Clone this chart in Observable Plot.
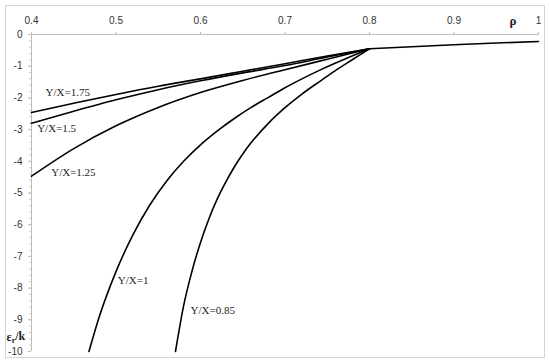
<!DOCTYPE html>
<html>
<head>
<meta charset="utf-8">
<script src="https://cdn.jsdelivr.net/npm/d3@7"></script>
<script src="https://cdn.jsdelivr.net/npm/@observablehq/plot@0.6"></script>
<style>
  html, body { margin: 0; padding: 0; background: #fff; }
  #wrap { position: relative; width: 550px; height: 363px; }
  #frame { position: absolute; left: 5px; top: 5px; width: 538px; height: 351px; border: 1px solid #d4d4d4; pointer-events: none; }
</style>
</head>
<body>
<div id="wrap"><div id="frame"></div></div>
<script>
// ---- data ----
const xTicks = [0.4, 0.5, 0.6, 0.7, 0.8, 0.9, 1];
const yTicks = [0, -1, -2, -3, -4, -5, -6, -7, -8, -9, -10];

const rhoA   = [0.4, 0.45, 0.5, 0.55, 0.6, 0.65, 0.7, 0.75, 0.8];
const yx175  = [-2.46, -2.17, -1.89, -1.63, -1.40, -1.16, -0.92, -0.68, -0.45];
const yx150  = [-2.80, -2.42, -2.06, -1.74, -1.46, -1.21, -0.98, -0.71, -0.45];
const yx125  = [-4.47, -3.60, -2.88, -2.30, -1.83, -1.45, -1.11, -0.78, -0.45];

const rho100 = [0.468, 0.48, 0.50, 0.52, 0.54, 0.56, 0.58, 0.60, 0.62, 0.64, 0.66, 0.68, 0.70, 0.72, 0.74, 0.76, 0.78, 0.80];
const yx100  = [-10, -8.92, -7.48, -6.32, -5.38, -4.62, -4.0, -3.48, -3.04, -2.65, -2.30, -1.99, -1.68, -1.40, -1.14, -0.90, -0.67, -0.45];

const rho085 = [0.5704, 0.58, 0.59, 0.60, 0.61, 0.62, 0.63, 0.64, 0.65, 0.66, 0.68, 0.70, 0.72, 0.74, 0.76, 0.78, 0.80];
const yx085  = [-10, -8.56, -7.46, -6.56, -5.81, -5.18, -4.65, -4.18, -3.77, -3.41, -2.81, -2.31, -1.88, -1.50, -1.13, -0.79, -0.45];

const rhoR   = [0.8, 0.85, 0.9, 0.95, 1];
const valR   = [-0.45, -0.385, -0.325, -0.27, -0.22];

const labelText = ["Y/X=1.75", "Y/X=1.5", "Y/X=1.25", "Y/X=1", "Y/X=0.85"];
const labelRho  = [0.4166, 0.4067, 0.4233, 0.5021, 0.5882];
const labelVal  = [-1.83, -2.98, -4.35, -7.77, -8.72];

// ---- build tables ----
const series = [
  ...rhoA.map((r, i) => ({s: "1.75", rho: r, v: yx175[i]})),
  ...rhoA.map((r, i) => ({s: "1.5", rho: r, v: yx150[i]})),
  ...rhoA.map((r, i) => ({s: "1.25", rho: r, v: yx125[i]})),
  ...rho100.map((r, i) => ({s: "1", rho: r, v: yx100[i]})),
  ...rho085.map((r, i) => ({s: "0.85", rho: r, v: yx085[i]}))
];
const right = rhoR.map((r, i) => ({rho: r, v: valR[i]}));
const labels = labelText.map((t, i) => ({t, rho: labelRho[i], v: labelVal[i]}));
const minor = d3.range(0, 51).map(i => -i * 0.2);

const chart = Plot.plot({
  width: 550,
  height: 363,
  marginLeft: 31,
  marginRight: 12,
  marginTop: 34,
  marginBottom: 12,
  style: {background: "transparent", fontFamily: "Liberation Sans", fontSize: "10px", color: "#333"},
  x: {domain: [0.4, 1]},
  y: {domain: [-10, 0]},
  marks: [
    Plot.ruleY([0], {stroke: "#bdbdbd", strokeWidth: 1}),
    Plot.ruleX([0.4], {stroke: "#bdbdbd", strokeWidth: 1}),
    Plot.axisX({anchor: "top", ticks: xTicks, tickSize: 3, tickPadding: 8, stroke: "#bdbdbd",
      tickFormat: d => String(+d.toFixed(1)), label: null, fill: "#333"}),
    Plot.axisY({anchor: "left", ticks: minor, tickSize: 2, tickFormat: () => "", stroke: "#cfcfcf", label: null}),
    Plot.axisY({anchor: "left", ticks: yTicks, tickSize: 3, tickPadding: 6, stroke: "#bdbdbd",
      tickFormat: d => String(d), label: null, fill: "#333"}),
    Plot.line(series, {x: "rho", y: "v", z: "s", curve: "monotone-x", stroke: "black", strokeWidth: 1.6}),
    Plot.line(right, {x: "rho", y: "v", stroke: "black", strokeWidth: 1.6}),
    Plot.text(labels, {x: "rho", y: "v", text: "t", textAnchor: "start", fontFamily: "Liberation Serif", fontSize: 11, fill: "#222"}),
    Plot.text(["ρ"], {frameAnchor: "top-right", dx: -22, dy: -14, lineAnchor: "middle", fontFamily: "Liberation Serif", fontWeight: "bold", fontSize: 13, fill: "#222"}),
    Plot.text(["εr/k"], {frameAnchor: "bottom-left", textAnchor: "start", lineAnchor: "bottom", dx: -25, dy: -11, fontFamily: "Liberation Serif", fontWeight: "bold", fontSize: 12, fill: "#222"})
  ]
});

// subscript the r in the y label
d3.select(chart).selectAll("text").each(function() {
  if (this.textContent === "εr/k") {
    const t = d3.select(this);
    t.text(null);
    t.append("tspan").text("ε");
    t.append("tspan").attr("font-size", 8).attr("dy", "0.25em").text("r");
    t.append("tspan").attr("dy", "-0.25em").text("/k");
  }
});

document.getElementById("wrap").appendChild(chart);
chart.style.position = "absolute";
chart.style.left = "0";
chart.style.top = "0";
</script>
</body>
</html>
